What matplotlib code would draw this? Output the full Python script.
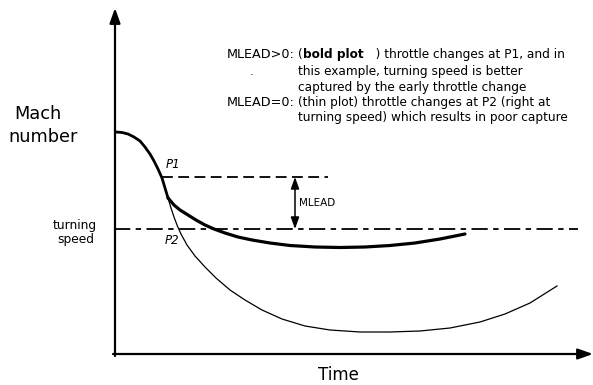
import numpy as np
import matplotlib
matplotlib.use("Agg")
import matplotlib.pyplot as plt

# -----------------------------
# Sketch data (drawing units: x = time, y = Mach, image height 385)
# -----------------------------
H = 385

# common part of the curve, before throttle change
common_t = [116, 122, 128, 134, 140, 145, 150, 154, 158, 162, 165, 168]
common_y = [132, 132.5, 134, 137, 141, 147, 154, 161, 169, 178, 188, 198]

# bold plot: MLEAD > 0
bold_t = [168, 174, 180, 188, 196, 205, 214, 225, 238, 252, 270, 290, 315,
          340, 365, 390, 415, 440, 465]
bold_y = [198, 205, 210, 215, 220, 225, 229, 233, 237, 240, 243, 245.5, 247,
          247.5, 247, 245.5, 243, 239, 234]

# thin plot: MLEAD = 0
thin_t = [168, 171, 174, 177, 181, 187, 195, 205, 216, 230, 245, 262, 282,
          305, 330, 360, 390, 420, 450, 480, 505, 530, 557]
thin_y = [198, 208, 217, 225, 234, 245, 256, 267, 278, 290, 300, 310, 319,
          326, 330, 332, 332, 331, 328, 322, 314, 303, 286]

P1_LEVEL = 177
TURN_LEVEL = 229

NOTE_LINES = [
    ("MLEAD>0:", ["(", "bold plot", "   ) throttle changes at P1, and in"]),
    ("", ["this example, turning speed is better"]),
    ("", ["captured by the early throttle change"]),
    ("MLEAD=0:", ["(thin plot) throttle changes at P2 (right at"]),
    ("", ["turning speed) which results in poor capture"]),
]
NOTE_BASE = [58, 75, 91, 106, 121]


def Y(v):
    return H - np.asarray(v, dtype=float)


plt.rcParams["font.family"] = ["DejaVu Sans"]

fig = plt.figure(figsize=(5.93, 3.85), dpi=100)
ax = fig.add_axes([0, 0, 1, 1])
ax.set_xlim(0, 593)
ax.set_ylim(0, H)
ax.axis("off")

# axes with arrows
arrow_kw = dict(arrowstyle="-|>,head_length=0.9,head_width=0.32", color="black",
                lw=1.6, shrinkA=0, shrinkB=0)
ax.annotate("", xy=(115, Y(8)), xytext=(115, Y(356)), arrowprops=arrow_kw)
ax.annotate("", xy=(593, Y(354)), xytext=(113, Y(354)), arrowprops=arrow_kw)

# curves
ax.plot(common_t, Y(common_y), color="black", lw=2.0, solid_capstyle="round")
ax.plot(bold_t, Y(bold_y), color="black", lw=2.3, solid_capstyle="round")
ax.plot(thin_t, Y(thin_y), color="black", lw=0.9)

# P1 level and turning speed line
ax.plot([162, 328], Y([P1_LEVEL, P1_LEVEL]), color="black", lw=1.3,
        linestyle=(0, (6, 3)))
ax.plot([114, 578], Y([TURN_LEVEL, TURN_LEVEL]), color="black", lw=1.3,
        linestyle=(0, (9, 3, 3, 3)))

# MLEAD double arrow
ax.annotate("", xy=(295, Y(P1_LEVEL)), xytext=(295, Y(TURN_LEVEL)),
            arrowprops=dict(arrowstyle="<|-|>,head_length=0.7,head_width=0.25",
                            color="black", lw=1.1, shrinkA=0, shrinkB=0))
ax.text(299, Y(203), "MLEAD", fontsize=7.5, ha="left", va="center")

# labels
ax.text(173, Y(165), "P1", fontsize=8.5, style="italic", ha="center", va="center")
ax.text(172, Y(241), "P2", fontsize=8.5, style="italic", ha="center", va="center")
ax.text(38, Y(114), "Mach", fontsize=12.8, ha="center", va="center")
ax.text(43, Y(137), "number", fontsize=12.8, ha="center", va="center")
ax.text(75, Y(225), "turning", fontsize=8.8, ha="center", va="center")
ax.text(76, Y(239), "speed", fontsize=8.8, ha="center", va="center")
ax.text(338, Y(375), "Time", fontsize=12, ha="center", va="center")
ax.text(252, Y(72), ".", fontsize=8, ha="center", va="center")

# annotation block
fig.canvas.draw()
renderer = fig.canvas.get_renderer()
inv = ax.transData.inverted()
for (head, parts), yy in zip(NOTE_LINES, NOTE_BASE):
    if head:
        ax.text(295, Y(yy), head, fontsize=9.2, ha="right", va="baseline")
    x = 298
    for part in parts:
        weight = "bold" if part == "bold plot" else "normal"
        t = ax.text(x, Y(yy), part, fontsize=8.7, ha="left", va="baseline",
                    weight=weight)
        bb = t.get_window_extent(renderer)
        x = inv.transform((bb.x1, bb.y0))[0] + 0.5

fig.savefig("out.png", dpi=100)
